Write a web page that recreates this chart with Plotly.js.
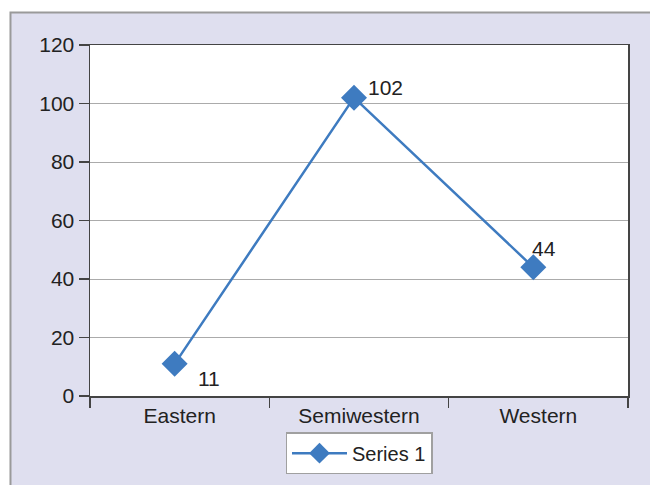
<!DOCTYPE html>
<html><head><meta charset="utf-8">
<script src="https://cdn.plot.ly/plotly-3.0.1.min.js"></script>
<style>html,body{margin:0;padding:0;background:#fff}#c{width:650px;height:485px}</style>
</head><body><div id="c"></div>
<script>
const categories = ['Eastern', 'Semiwestern', 'Western'];
const values = [11, 102, 44];
const labels = ['11', '102', '44'];
const seriesName = 'Series 1';
const yTicks = [0, 20, 40, 60, 80, 100, 120];

const FONT = '"Liberation Sans", Arial, sans-serif';
const BLUE = '#3e7bc0';
const labelShift = [[21, -15], [12, 10], [-3, 19]];

// carrier for the category axis (draws nothing)
const axisTrace = {
  x: categories, y: values, type: 'scatter', mode: 'none', showlegend: false,
  hoverinfo: 'skip', xaxis: 'x', yaxis: 'y'
};
const trace = {
  x: categories, y: values, type: 'scatter', mode: 'lines+markers',
  name: seriesName, xaxis: 'x2', yaxis: 'y',
  line: {color: BLUE, width: 2.5},
  marker: {symbol: 'diamond', size: 20, color: BLUE},
  cliponaxis: false
};
const annotations = categories.map((c, i) => ({
  x: c, y: values[i], xref: 'x2', yref: 'y', text: labels[i], showarrow: false,
  xanchor: 'left', yanchor: 'middle', xshift: labelShift[i][0], yshift: labelShift[i][1],
  font: {family: FONT, size: 21, color: '#222'}
}));
const layout = {
  width: 650, height: 485,
  margin: {l: 90, r: 22, t: 45, b: 88},
  paper_bgcolor: '#ffffff', plot_bgcolor: '#ffffff',
  font: {family: FONT, size: 21, color: '#222'},
  showlegend: true,
  legend: {x: 0.5, y: -0.1, xanchor: 'center', yanchor: 'top', orientation: 'h',
    bgcolor: '#ffffff', bordercolor: '#a0a0a0', borderwidth: 1.5, itemwidth: 55,
    font: {family: FONT, size: 20, color: '#222'}},
  xaxis: {type: 'category', categoryarray: categories, tickson: 'boundaries', ticks: 'outside', ticklen: 10,
    tickcolor: '#444', tickwidth: 1.5, showline: true, linecolor: '#444', linewidth: 1.5,
    mirror: true, showgrid: false, range: [-0.5, 2.5], fixedrange: true},
  xaxis2: {type: 'category', categoryarray: categories, overlaying: 'x', visible: false,
    range: [-0.472, 2.528], fixedrange: true},
  yaxis: {range: [0, 120], tickvals: yTicks, ticks: 'outside', ticklen: 10,
    tickcolor: '#444', tickwidth: 1.5, showline: true, linecolor: '#444', linewidth: 1.5,
    mirror: true, showgrid: true, gridcolor: '#ababab', gridwidth: 1, zeroline: false,
    fixedrange: true},
  annotations: annotations,
  shapes: [
    {type: 'rect', xref: 'paper', yref: 'paper', x0: -0.1478, x1: 1.08, y0: -0.3, y1: 1.0923,
      fillcolor: '#dfdfef', line: {color: '#9a9a9a', width: 2}, layer: 'below'},
    {type: 'rect', xref: 'paper', yref: 'paper', x0: 0, x1: 1, y0: 0, y1: 1,
      fillcolor: '#ffffff', line: {width: 0}, layer: 'below'}
  ]
};
Plotly.newPlot('c', [axisTrace, trace], layout, {displayModeBar: false, staticPlot: true});
</script></body></html>
